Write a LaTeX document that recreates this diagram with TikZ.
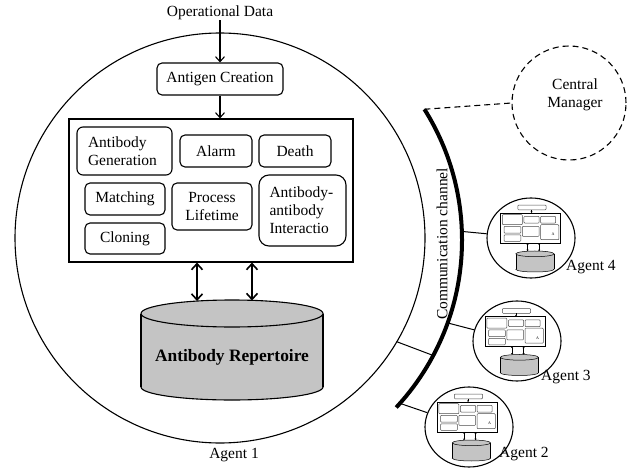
\documentclass[tikz,border=0pt]{standalone}
\usepackage{fontspec}
\setmainfont{Liberation Serif}
\usetikzlibrary{arrows.meta,calc,shapes.geometric}
\definecolor{repfill}{RGB}{196,196,196}
% small copy of an agent's inner structure, drawn in the big agent's coordinates
\newcommand\miniagent[2]{%
  \begin{scope}[shift={({#1-0.21*211},{#2-0.21*190.5})},scale=0.21]
    \draw[minibox] (151,81) rectangle (285,104);
    \draw[miniflow] (216,104) -- (216,119);
    \draw[line width=0.6pt] (69,119) rectangle (353,262);
    \draw[minibox] (77,127) rectangle (172,175);
    \draw[minibox] (180,135) rectangle (252,167);
    \draw[minibox] (259,135) rectangle (331,167);
    \draw[minibox] (85,183) rectangle (165,215);
    \draw[minibox] (85,223) rectangle (165,254);
    \draw[minibox] (172,183) rectangle (252,230);
    \draw[minibox] (259,175) rectangle (346,246);
    \node[font=\fontsize{4}{4}\selectfont, inner sep=0pt] at (318,221) {A};
    \draw[minidbl] (197,262) -- (197,301);
    \draw[minidbl] (252,262) -- (252,301);
    \fill[repfill] (232,387) ellipse [x radius=91, y radius=13];
    \draw[line width=0.5pt] (232,387) ellipse [x radius=91, y radius=13];
    \fill[repfill] (141,313.5) rectangle (323,387);
    \draw[line width=0.5pt] (141,313.5) -- (141,387) (323,313.5) -- (323,387);
    \draw[line width=0.5pt, fill=repfill] (232,313.5) ellipse [x radius=91, y radius=13.5];
  \end{scope}}
\begin{document}
\begin{tikzpicture}[x=1pt,y=-1pt,
  font=\fontsize{15.5}{18}\selectfont,
  rbox/.style={draw, line width=1.1pt, rounded corners=5pt, inner sep=0pt, align=center},
  lbox/.style={rbox, align=left, inner xsep=11pt},
  flow/.style={line width=1.1pt, -{Straight Barb[length=5pt,width=9pt,line width=1.1pt]}},
  dbl/.style={line width=1.8pt, {Straight Barb[length=6pt,width=11pt,line width=1.6pt]}-{Straight Barb[length=6pt,width=11pt,line width=1.6pt]}},
  minibox/.style={draw=black!70, line width=0.5pt, rounded corners=0.8pt},
  miniflow/.style={line width=0.4pt, -{Stealth[length=1.6pt,width=2pt]}},
  minidbl/.style={line width=0.4pt, {Stealth[length=1.6pt,width=2.2pt]}-{Stealth[length=1.6pt,width=2.2pt]}},
  agent/.style={draw, ellipse, line width=1.1pt, minimum width=88pt, minimum height=80pt, inner sep=0pt},
  link/.style={line width=1pt},
  txt/.style={inner sep=0pt}
]
\useasboundingbox (0,0) rectangle (644,470);

% ---- Agent 1 ----
\node[draw, circle, line width=1.1pt, minimum size=410pt, inner sep=0pt] (ag1) at (220,238) {};
\node[txt] (agl1) at (234,455) {Agent 1};

\node[txt] (opdata) at (220,13) {Operational Data};
\node[rbox, minimum width=126pt, minimum height=32pt] (antigen) at (220,79) {Antigen Creation};
\node[draw, line width=1.1pt, minimum width=284pt, minimum height=143pt, inner sep=0pt] (core) at (211,190.5) {};

\draw[flow] (opdata.south) -- (antigen.north);
\draw[flow] (antigen.south) -- (antigen.south |- core.north);

\node[lbox, rounded corners=6pt, text width=73pt, minimum height=48pt] (gen) at (124.5,151) {Antibody\\Generation};
\node[rbox, minimum width=72pt, minimum height=32pt] (alarm) at (216,151) {Alarm};
\node[rbox, minimum width=72pt, minimum height=32pt] (death) at (295,151) {Death};
\node[rbox, minimum width=80pt, minimum height=32pt] (match) at (125,199) {Matching};
\node[rbox, minimum width=80pt, minimum height=31pt] (clone) at (125,238.5) {Cloning};
\node[rbox, minimum width=80pt, minimum height=47pt] (life) at (212,206.5) {Process\\Lifetime};
\node[lbox, rounded corners=10pt, inner xsep=10.5pt, text width=66pt, minimum height=71pt] (inter) at (302.5,210.5) {Antibody-\\antibody\\Interactio};

% antibody repertoire cylinder
\fill[repfill] (232,387) ellipse [x radius=91, y radius=13];
\draw[line width=1.1pt] (232,387) ellipse [x radius=91, y radius=13];
\fill[repfill] (141,313.5) rectangle (323,387);
\draw[line width=1.1pt] (141,313.5) -- (141,387) (323,313.5) -- (323,387);
\draw[line width=1.1pt, fill=repfill] (232,313.5) ellipse [x radius=91, y radius=13.5];
\node[txt, font=\fontsize{17.4}{20}\selectfont\bfseries] (rep) at (232,357) {Antibody Repertoire};
\coordinate (repL) at (197,301);
\coordinate (repR) at (252,300.5);

\draw[dbl] ($(core.south)+(-14,0)$) -- (repL);
\draw[dbl] ($(core.south)+(41,0)$) -- (repR);

% ---- communication channel ----
\coordinate (chc) at (216,240);
\begin{scope}
  \clip (chc) -- ($(chc)+(-32.1:400)$) -- ($(chc)+(0:400)$) -- ($(chc)+(42.9:400)$) -- cycle;
  \draw[line width=4pt] (chc) circle [radius=246];
\end{scope}
\node[txt, rotate=90] (chlabel) at (442,244) {Communication channel};

\coordinate (chtop) at ($(chc)+(-32.1:246)$);
\coordinate (ch4) at ($(chc)+(-2:246)$);
\coordinate (ch3) at ($(chc)+(19.7:246)$);
\coordinate (ch1) at ($(chc)+(28:246)$);
\coordinate (ch2) at ($(chc)+(41.6:246)$);
\coordinate (ag1pt) at ($(220,238)+(30.4:205)$);

% ---- central manager ----
\node[draw, circle, dash pattern=on 6pt off 4pt, line width=1.1pt, minimum size=114pt, inner sep=0pt] (cm) at (569,103) {};
\node[txt, align=center] (cmtext) at (575,95) {Central\\Manager};
\draw[line width=1.1pt, dash pattern=on 6pt off 4pt] (chtop) -- (cm.west);

% ---- other agents ----
\node[agent] (ag4) at (531,238) {};
\node[agent] (ag3) at (517,341) {};
\node[agent] (ag2) at (469,427) {};
\miniagent{530.5}{228}
\miniagent{515}{331.5}
\miniagent{467}{417}
\node[txt, anchor=west] (agl4) at (566,267) {Agent 4};
\node[txt, anchor=west] (agl3) at (541,377) {Agent 3};
\node[txt, anchor=west] (agl2) at (499,454) {Agent 2};

\draw[link] (ch4) -- (ag4);
\draw[link] (ch3) -- (ag3);
\draw[link] (ch2) -- (ag2);
\draw[link] (ag1pt) -- (ch1);
\end{tikzpicture}
\end{document}
